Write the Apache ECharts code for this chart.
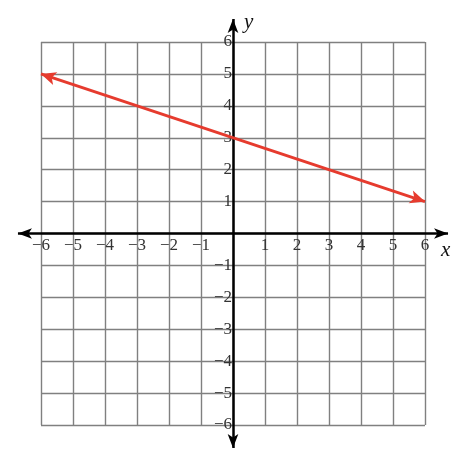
<!DOCTYPE html>
<html>
<head>
<meta charset="utf-8">
<script src="https://cdn.jsdelivr.net/npm/echarts@6/dist/echarts.min.js"></script>
<style>
html, body { margin: 0; padding: 0; background: #fff; }
#container { width: 468px; height: 464px; }
</style>
</head>
<body>
<div id="container"></div>
<script>
// axis range and tick labels
var axisMin = -6;
var axisMax = 6;
var tickStep = 1;
// where the axis arrows stop (a bit past the grid)
var axisReach = [-6.72, 6.72];
// the red line, from (-6,5) to (6,1)
var lineX = [-6, 6];
var lineY = [5, 1];

var serif = '"Liberation Serif", "Times New Roman", serif';

function tickLabel(v) {
    if (v === 0) return '';
    return v < 0 ? '\u2212' + (-v) : String(v);
}

var chart = echarts.init(document.getElementById('container'));
chart.setOption({
    animation: false,
    grid: { left: 41, right: 43, top: 42, bottom: 39 },
    xAxis: {
        type: 'value',
        position: 'bottom',
        offset: -192,
        min: axisMin,
        max: axisMax,
        interval: tickStep,
        axisLine: { show: false, onZero: false },
        axisTick: { show: false },
        splitLine: { show: true, lineStyle: { color: '#808080', width: 1.4 } },
        axisLabel: {
            formatter: tickLabel,
            margin: 4,
            color: '#333',
            fontFamily: serif,
            fontSize: 17,
            showMinLabel: true,
            showMaxLabel: true
        }
    },
    yAxis: {
        type: 'value',
        position: 'left',
        offset: -192,
        min: axisMin,
        max: axisMax,
        interval: tickStep,
        axisLine: { show: false, onZero: false },
        axisTick: { show: false },
        splitLine: { show: true, lineStyle: { color: '#808080', width: 1.4 } },
        axisLabel: {
            formatter: tickLabel,
            margin: 1,
            color: '#333',
            fontFamily: serif,
            fontSize: 17,
            padding: [3, 0, 0, 0],
            showMinLabel: true,
            showMaxLabel: true
        }
    },
    graphic: [
        { type: 'text', left: 244, top: 12, style: { text: 'y', font: 'italic 21px "Liberation Serif"', fill: '#111' } },
        { type: 'text', left: 441, top: 240, style: { text: 'x', font: 'italic 21px "Liberation Serif"', fill: '#111' } }
    ],
    series: [
        {
            name: 'axes',
            type: 'lines',
            coordinateSystem: 'cartesian2d',
            z: 3,
            clip: false,
            symbol: ['arrow', 'arrow'],
            symbolSize: [[8, 14], [8, 14]],
            lineStyle: { color: '#000', width: 2.5, opacity: 1 },
            data: [
                { coords: [[axisReach[0], 0], [axisReach[1], 0]] },
                { coords: [[0, axisReach[0]], [0, axisReach[1]]] }
            ]
        },
        {
            name: 'line',
            type: 'lines',
            coordinateSystem: 'cartesian2d',
            z: 4,
            clip: false,
            symbol: ['arrow', 'arrow'],
            symbolSize: [[10, 15], [10, 15]],
            lineStyle: { color: '#e63b2e', width: 3, opacity: 1 },
            data: [
                { coords: [[lineX[0], lineY[0]], [lineX[1], lineY[1]]] }
            ]
        }
    ]
});
</script>
</body>
</html>
